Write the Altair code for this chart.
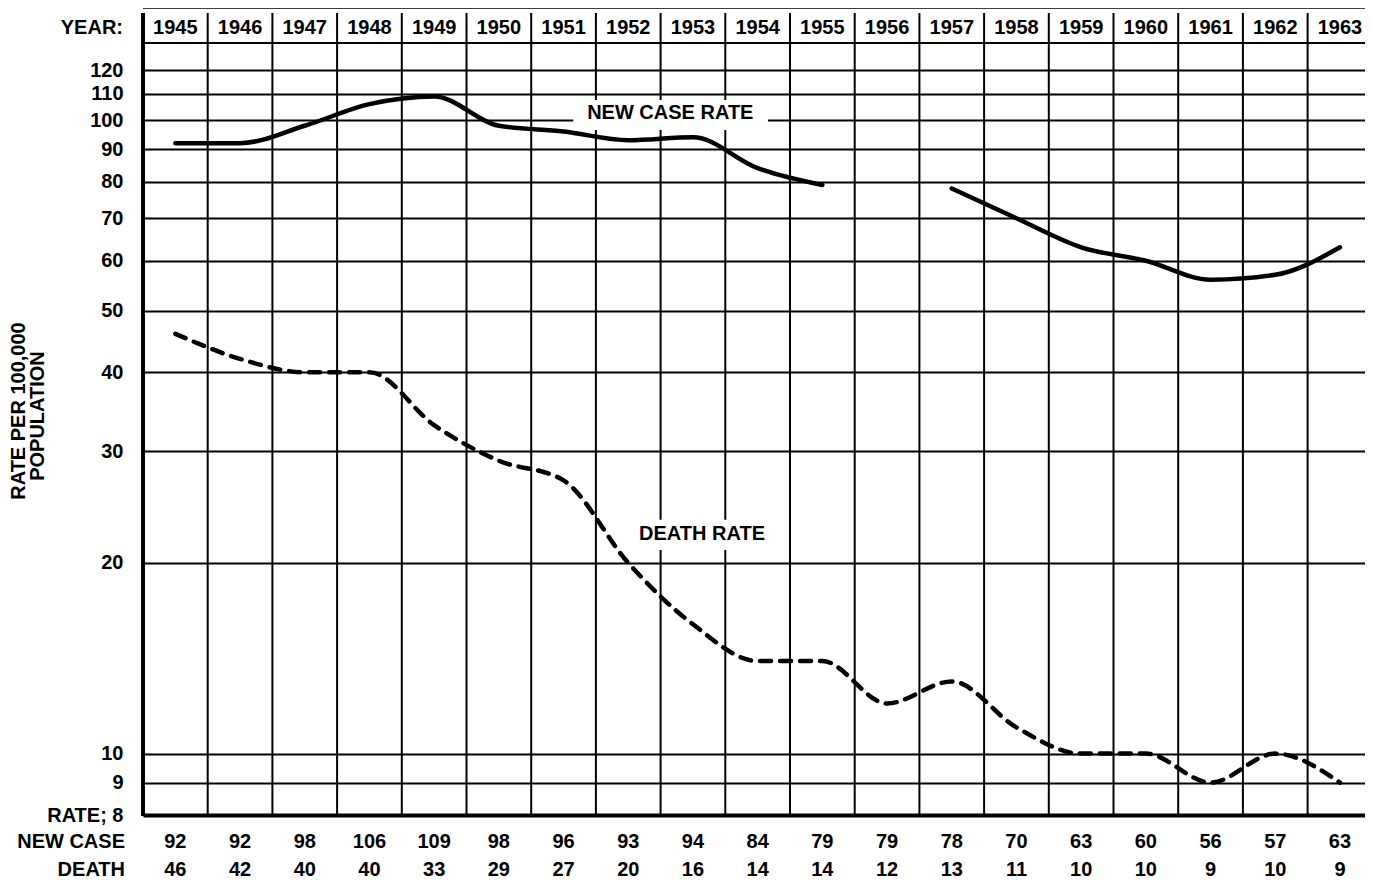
import altair as alt
import pandas as pd

# ---------------- data ----------------
years = list(range(1945, 1964))
new_case_rate = [92, 92, 98, 106, 109, 98, 96, 93, 94, 84, 79, 79, 78, 70, 63, 60, 56, 57, 63]
death_rate = [46, 42, 40, 40, 33, 29, 27, 20, 16, 14, 14, 12, 13, 11, 10, 10, 9, 10, 9]
new_case_not_drawn = [1956]          # the plotted new-case line has a gap here
y_ticks = [8, 9, 10, 20, 30, 40, 50, 60, 70, 80, 90, 100, 110, 120]

# in-chart labels (position in data units) and their white boxes
label_text = ["NEW CASE RATE", "DEATH RATE"]
label_year = [1952.65, 1953.14]
label_rate = [102.7, 22.2]
box_year0 = [1951.15, 1952.0]
box_year1 = [1954.16, 1954.28]
box_rate0 = [96.5, 20.96]
box_rate1 = [107.6, 23.4]

axis_title_lines = ["RATE PER 100,000", "POPULATION"]
row_titles = ["YEAR:", "NEW CASE", "DEATH"]

# ---------------- layout ----------------
W, H = 1222, 772
FONT = "Liberation Sans"
FS = 20
X0, X1 = 1944.5, 1963.387   # last column is cut by the page edge, as in the reference

df = pd.DataFrame({
    "year": years,
    "new_case": new_case_rate,
    "death": death_rate,
    "year_label": [str(y) for y in years],
})

nc = df[~df["year"].isin(new_case_not_drawn)].copy()
seg, s, prev = [], 0, None
for y in nc["year"]:
    if prev is not None and y - prev > 1:
        s += 1
    seg.append(s)
    prev = y
nc["segment"] = seg

bounds = pd.DataFrame({"b": [y + 0.5 for y in years[:-1]]})
ann = pd.DataFrame({
    "label": label_text, "lx": label_year, "lr": label_rate,
    "x0": box_year0, "x1": box_year1, "r0": box_rate0, "r1": box_rate1,
})
one = pd.DataFrame({"k": [0]})
span = pd.DataFrame({"a": [X0], "b2": [X1]})

x_scale = alt.Scale(domain=[X0, X1], nice=False, zero=False)
y_scale = alt.Scale(type="log", domain=[8, 132.4], nice=False)

y_axis = alt.Axis(
    values=y_ticks, title=None, ticks=False, domain=False,
    grid=True, gridColor="black", gridWidth=2, gridOpacity=1,
    labelFont=FONT, labelFontSize=FS, labelFontWeight="bold", labelColor="black",
    labelPadding=20, labelOverlap=False, labelFlush=False,
    labelExpr="datum.value == 8 ? 'RATE; 8' : format(datum.value, 'd')",
)
x_axis = alt.Axis(title=None, labels=False, ticks=False, grid=False,
                  domain=True, domainColor="black", domainWidth=4)


def X(field):
    return alt.X(field, scale=x_scale, axis=x_axis)


def Y(field):
    return alt.Y(field, scale=y_scale, axis=y_axis)


vrules = alt.Chart(bounds).mark_rule(color="black", strokeWidth=2).encode(
    x=X("b:Q"), y=alt.value(-30), y2=alt.value(H),
)
left_rule = alt.Chart(one).mark_rule(color="black", strokeWidth=4).encode(
    x=alt.value(0), y=alt.value(-30), y2=alt.value(H + 1))
top_border = alt.Chart(span).mark_rule(color="black", strokeWidth=3.5).encode(
    x=X("a:Q"), x2="b2:Q", y=alt.value(-36))
header_bottom = alt.Chart(span).mark_rule(color="black", strokeWidth=2).encode(
    x=X("a:Q"), x2="b2:Q", y=alt.value(0))

boxes = alt.Chart(ann).mark_rect(color="white").encode(
    x=X("x0:Q"), x2="x1:Q", y=Y("r0:Q"), y2="r1:Q",
)
labels = alt.Chart(ann).mark_text(font=FONT, fontSize=FS, fontWeight="bold",
                                  color="black", baseline="middle").encode(
    x=X("lx:Q"), y=Y("lr:Q"), text="label:N",
)

new_case_line = alt.Chart(nc).mark_line(color="black", strokeWidth=4.5,
                                        interpolate="monotone", strokeCap="round").encode(
    x=X("year:Q"), y=Y("new_case:Q"), detail="segment:N",
)
death_line = alt.Chart(df).mark_line(color="black", strokeWidth=4.5, strokeDash=[11, 9],
                                     strokeCap="round", interpolate="monotone").encode(
    x=X("year:Q"), y=Y("death:Q"),
)

txt = dict(font=FONT, fontSize=FS, fontWeight="bold", color="black", baseline="middle")
year_row = alt.Chart(df).mark_text(**txt).encode(
    x=X("year:Q"), y=alt.value(-15), text="year_label:N")
nc_row = alt.Chart(df).mark_text(**txt).encode(
    x=X("year:Q"), y=alt.value(799), text="new_case:Q")
death_row = alt.Chart(df).mark_text(**txt).encode(
    x=X("year:Q"), y=alt.value(827), text="death:Q")

row_y = [-15, 799, 827]
row_x = [-20, -18, -18]
row_layers = [
    alt.Chart(one).mark_text(align="right", **txt).encode(
        x=alt.value(rx), y=alt.value(ry), text=alt.value(t))
    for t, rx, ry in zip(row_titles, row_x, row_y)
]

title_x = [-124, -105]
title_y = [368, 373]
title_layers = [
    alt.Chart(one).mark_text(angle=270, align="center", font=FONT, fontSize=20,
                             fontWeight="bold", color="black", baseline="middle").encode(
        x=alt.value(tx), y=alt.value(ty), text=alt.value(t))
    for t, tx, ty in zip(axis_title_lines, title_x, title_y)
]

chart = alt.layer(
    vrules, left_rule, top_border, header_bottom, boxes, labels,
    new_case_line, death_line, year_row, nc_row, death_row,
    *row_layers, *title_layers,
).properties(
    width=W, height=H,
    autosize=alt.AutoSizeParams(type="none"),
    padding={"left": 135, "top": 35, "right": 0, "bottom": 68},
    background="white",
).configure_view(stroke=None)

chart.save("out.html", embed_options={"renderer": "svg", "actions": False})
